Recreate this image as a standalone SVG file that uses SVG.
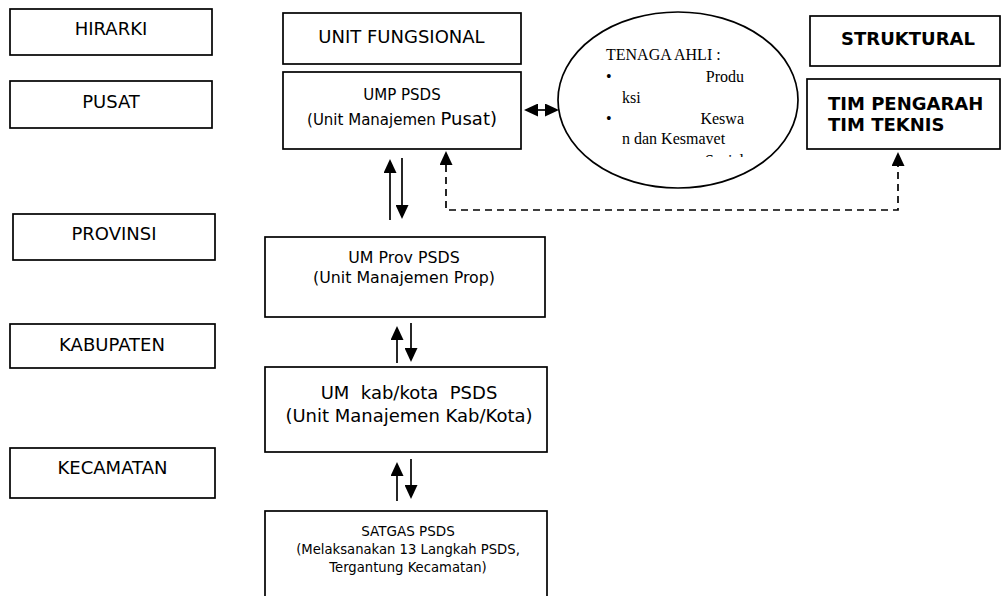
<svg xmlns="http://www.w3.org/2000/svg" width="1002" height="596" viewBox="0 0 1002 596">
<style>
.box{fill:#fff;stroke:#000;stroke-width:1.7}
.t{font-family:"DejaVu Sans",Verdana,sans-serif;fill:#000;text-anchor:middle}
.lbl{font-size:18px}
.b{font-family:"DejaVu Sans",Verdana,sans-serif;font-weight:bold;font-size:18px;fill:#000}
.ser{font-family:"Liberation Serif","Times New Roman",serif;font-size:16px;fill:#000}
.c{fill:none;stroke:#000;stroke-width:1.7}
.d{stroke-dasharray:7 5}
</style>
<defs>
<marker id="ah" viewBox="0 0 14 13" refX="12" refY="6.5" markerWidth="14" markerHeight="13" markerUnits="userSpaceOnUse" orient="auto-start-reverse">
<path d="M0,0 L14,6.5 L0,13 z" fill="#000"/>
</marker>
<clipPath id="ec"><rect x="590" y="30" width="170" height="127"/></clipPath>
</defs>
<rect width="1002" height="596" fill="#fff"/>

<g id="hirarki"><rect class="box" x="10" y="9" width="202" height="46"/><text class="t lbl" x="111" y="35">HIRARKI</text></g>
<g id="pusat"><rect class="box" x="10" y="81" width="202" height="47"/><text class="t lbl" x="111" y="108">PUSAT</text></g>
<g id="provinsi"><rect class="box" x="13" y="214" width="202" height="46"/><text class="t lbl" x="114" y="240">PROVINSI</text></g>
<g id="kabupaten"><rect class="box" x="10" y="324" width="205" height="44"/><text class="t lbl" x="112" y="351">KABUPATEN</text></g>
<g id="kecamatan"><rect class="box" x="10" y="448" width="205" height="50"/><text class="t lbl" x="112.5" y="474">KECAMATAN</text></g>

<g id="unit-fungsional"><rect class="box" x="283" y="13" width="238" height="51"/><text class="t lbl" x="401.5" y="43">UNIT FUNGSIONAL</text></g>
<g id="ump"><rect class="box" x="283" y="72" width="238" height="77"/>
<text class="t" x="402" y="100" font-size="15">UMP PSDS</text>
<text class="t" x="402" y="125" font-size="15">(Unit Manajemen <tspan font-size="18">Pusat)</tspan></text></g>
<g id="um-prov"><rect class="box" x="265" y="237" width="280" height="80"/>
<text class="t" x="404" y="263" font-size="15.8">UM Prov PSDS</text>
<text class="t" x="404" y="283" font-size="15.8">(Unit Manajemen Prop)</text></g>
<g id="um-kab"><rect class="box" x="265" y="367" width="282" height="85"/>
<text class="t" x="409" y="399" font-size="18" xml:space="preserve">UM  kab/kota  PSDS</text>
<text class="t" x="409" y="422" font-size="18">(Unit Manajemen Kab/Kota)</text></g>
<g id="satgas"><rect class="box" x="265" y="511" width="282" height="100"/>
<text class="t" x="408" y="536" font-size="13.5">SATGAS PSDS</text>
<text class="t" x="408" y="554" font-size="13.2">(Melaksanakan 13 Langkah PSDS,</text>
<text class="t" x="408" y="572" font-size="13.2">Tergantung Kecamatan)</text></g>

<g id="tenaga-ahli"><ellipse cx="678" cy="100" rx="120" ry="88" fill="#fff" stroke="#000" stroke-width="1.7"/>
<g clip-path="url(#ec)">
<text class="ser" x="606" y="60">TENAGA AHLI :</text>
<text class="ser" x="606" y="82">•</text><text class="ser" x="744" y="82" text-anchor="end">Produ</text>
<text class="ser" x="622" y="103">ksi</text>
<text class="ser" x="606" y="124">•</text><text class="ser" x="744" y="124" text-anchor="end">Keswa</text>
<text class="ser" x="622" y="144">n dan Kesmavet</text>
<text class="ser" x="744" y="166" text-anchor="end">Sosial</text>
</g></g>

<g id="struktural"><rect class="box" x="810" y="16" width="190" height="50"/><text class="b" x="908" y="45" text-anchor="middle">STRUKTURAL</text></g>
<g id="tim"><rect class="box" x="807" y="79" width="193" height="70"/>
<text class="b" x="828" y="110">TIM PENGARAH</text>
<text class="b" x="828" y="131">TIM TEKNIS</text></g>

<g id="connectors">
<line class="c" x1="402" y1="158" x2="402" y2="217" marker-end="url(#ah)"/>
<line class="c" x1="390" y1="220" x2="390" y2="161" marker-end="url(#ah)"/>
<line class="c" x1="397" y1="363" x2="397" y2="328" marker-end="url(#ah)"/>
<line class="c" x1="411" y1="323" x2="411" y2="360" marker-end="url(#ah)"/>
<line class="c" x1="397" y1="501" x2="397" y2="464" marker-end="url(#ah)"/>
<line class="c" x1="411" y1="459" x2="411" y2="497" marker-end="url(#ah)"/>
<line class="c" x1="526" y1="110" x2="557" y2="110" marker-start="url(#ah)" marker-end="url(#ah)"/>
<path class="c d" d="M446,153 V210 H898 V154" marker-start="url(#ah)" marker-end="url(#ah)"/>
</g>
</svg>
